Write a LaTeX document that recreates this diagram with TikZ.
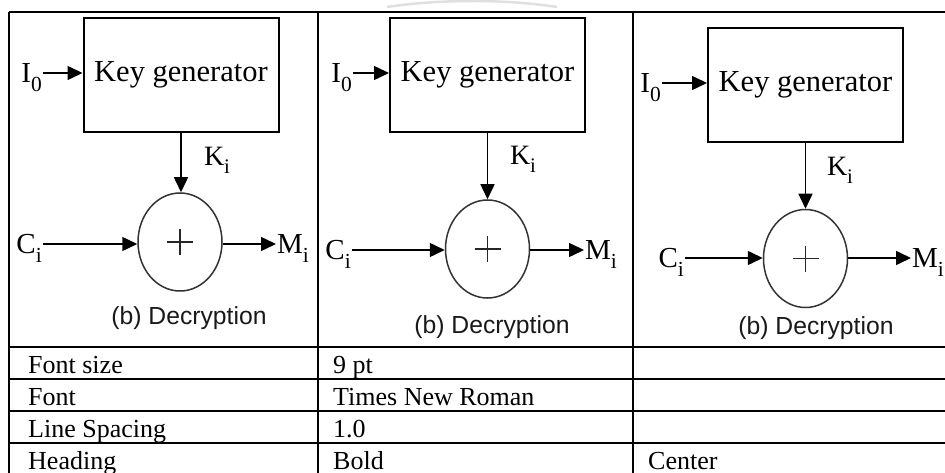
\documentclass[tikz,border=0pt]{standalone}
\usepackage{fontspec}
\usepackage{graphicx}
\setmainfont{Liberation Serif}
\newfontfamily\arialfont{Liberation Sans}
\usetikzlibrary{arrows.meta,shapes.geometric}
\newcommand\lbl[2]{#1\smash{\raisebox{-0.3em}{\scalebox{0.74}{#2}}}}
\begin{document}
\begin{tikzpicture}[x=1pt,y=-1pt,
  arr/.style={-{Triangle[length=15pt,width=14pt]}, line width=1.5pt},
  kbox/.style={draw, line width=2pt, minimum width=195pt, minimum height=114pt, inner sep=0pt, font=\fontsize{30.5}{32}\selectfont},
  xorc/.style={draw=black!80, ellipse, line width=1.5pt, minimum width=84pt, minimum height=98pt, inner sep=0pt},
  lab/.style={inner sep=1pt, font=\fontsize{29}{30}\selectfont},
  klab/.style={inner sep=1pt, font=\fontsize{28}{30}\selectfont},
  capt/.style={font=\arialfont\fontsize{24.7}{26}\selectfont, inner sep=0pt, text=black!90},
  cell/.style={anchor=base west, inner sep=0pt, font=\fontsize{26}{28}\selectfont},
  grid/.style={line width=2pt},
  plusline/.style={line width=1.3pt, black!85}]
\useasboundingbox (0,0) rectangle (945,473);
\clip (0,0) rectangle (945,473);
% faint arc at top
\draw[black!12, line width=2.5pt] (387,7) .. controls (440,-1) and (505,-1) .. (557,7);
% table grid
\draw[grid] (9,12) -- (945,12);
\foreach \yy in {347,379,411,443} \draw[grid] (9,\yy) -- (945,\yy);
\foreach \xx in {9,318,633} \draw[grid] (\xx,12) -- (\xx,473);
% panel 1
\node[kbox] (kg1) at (181,75) {Key generator};
\node[lab, anchor=east] (i1) at (43,73) {\lbl{I}{0}};
\node[xorc] (x1) at (180,242) {};
\node[lab, anchor=east] (c1) at (43,244) {\lbl{C}{i}};
\node[lab, anchor=west] (m1) at (276,244) {\lbl{M}{i}};
\node[klab] (k1) at (217,156) {\lbl{K}{i}};
\node[capt] (d1) at (189,318) {(b) Decryption};
\draw[arr] (i1.east) -- (i1.east -| kg1.west);
\draw[arr] (kg1.south) -- (kg1.south |- x1.north);
\draw[arr] (c1.east) -- (c1.east -| x1.west);
\draw[arr] (x1.east |- m1.west) -- (m1.west);
\draw[plusline] (x1.center) ++(-13,0) -- ++(26,0);
\draw[plusline] (x1.center) ++(0,-13) -- ++(0,26);
% panel 2
\node[kbox] (kg2) at (487.5,75) {Key generator};
\node[lab, anchor=east] (i2) at (353,73) {\lbl{I}{0}};
\node[xorc] (x2) at (487.5,249) {};
\node[lab, anchor=east] (c2) at (352,250) {\lbl{C}{i}};
\node[lab, anchor=west] (m2) at (584,250) {\lbl{M}{i}};
\node[klab] (k2) at (523,155) {\lbl{K}{i}};
\node[capt] (d2) at (492,327) {(b) Decryption};
\draw[arr] (i2.east) -- (i2.east -| kg2.west);
\draw[arr] (kg2.south) -- (kg2.south |- x2.north);
\draw[arr] (c2.east) -- (c2.east -| x2.west);
\draw[arr] (x2.east |- m2.west) -- (m2.west);
\draw[plusline] (x2.center) ++(-13,0) -- ++(26,0);
\draw[plusline] (x2.center) ++(0,-13) -- ++(0,26);
% panel 3
\node[kbox] (kg3) at (805.5,85) {Key generator};
\node[lab, anchor=east] (i3) at (662,83) {\lbl{I}{0}};
\node[xorc] (x3) at (805.5,258.5) {};
\node[lab, anchor=east] (c3) at (685,258) {\lbl{C}{i}};
\node[lab, anchor=west] (m3) at (911,258) {\lbl{M}{i}};
\node[klab] (k3) at (840,166) {\lbl{K}{i}};
\node[capt] (d3) at (816,328) {(b) Decryption};
\draw[arr] (i3.east) -- (i3.east -| kg3.west);
\draw[arr] (kg3.south) -- (kg3.south |- x3.north);
\draw[arr] (c3.east) -- (c3.east -| x3.west);
\draw[arr] (x3.east |- m3.west) -- (m3.west);
\draw[plusline] (x3.center) ++(-13,0) -- ++(26,0);
\draw[plusline] (x3.center) ++(0,-13) -- ++(0,26);
% table cells
\node[cell] (t11) at (28,373) {Font size};
\node[cell] (t12) at (333,373) {9 pt};
\node[cell] (t21) at (28,405) {Font};
\node[cell] (t22) at (333,405) {Times New Roman};
\node[cell] (t31) at (28,437) {Line Spacing};
\node[cell] (t32) at (333,437) {1.0};
\node[cell] (t41) at (28,469) {Heading};
\node[cell] (t42) at (333,469) {Bold};
\node[cell] (t43) at (648,469) {Center};
\end{tikzpicture}
\end{document}
